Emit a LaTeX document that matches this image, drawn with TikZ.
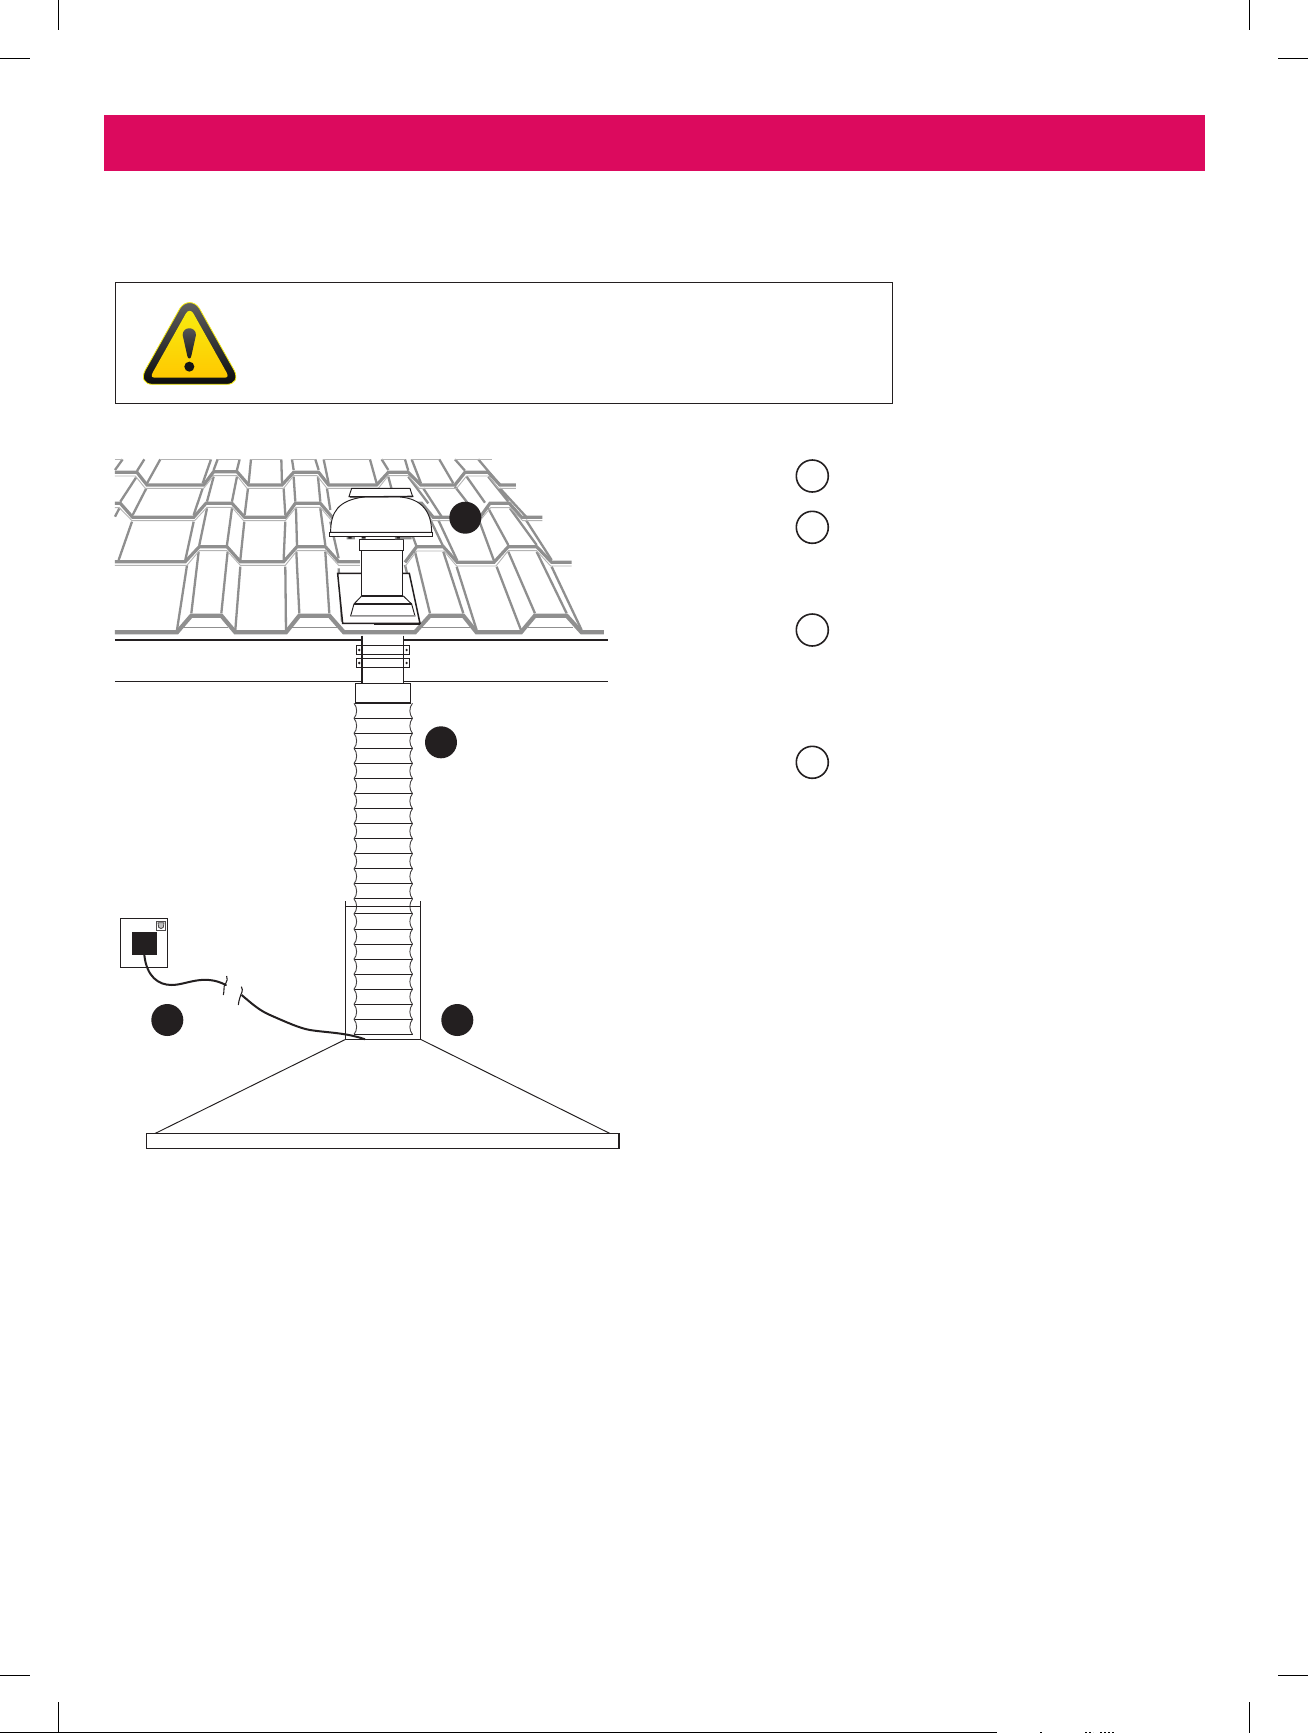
\documentclass[tikz,border=0pt]{standalone}
\definecolor{barpink}{HTML}{DC0A5E}
\definecolor{inkblack}{HTML}{231F20}
\definecolor{tilegray}{HTML}{8F8F8F}
\definecolor{tilelight}{HTML}{B4B4B4}
\definecolor{signtop}{HTML}{F7EC10}
\definecolor{signbottom}{HTML}{FFC800}
\tikzset{
  rib/.style={draw=tilegray,line width=2.3pt},
  rowline/.style={draw=tilegray,line width=3.2pt,line join=miter},
  baseline row/.style={draw=tilegray,line width=4.2pt,line join=miter},
  hairrow/.style={draw=tilelight,line width=0.9pt},
  ink/.style={draw=inkblack,line width=0.95pt},
  inkthick/.style={draw=inkblack,line width=1.5pt},
  cropmark/.style={draw=black,line width=0.8pt},
  badgeopen/.style={circle,draw=inkblack,line width=1.6pt,minimum size=32pt,inner sep=0pt},
  badgefull/.style={circle,fill=inkblack,minimum size=32pt,inner sep=0pt},
}
\begin{document}
\begin{tikzpicture}[x=1pt,y=-1pt]
\useasboundingbox (0,0) rectangle (1308,1733);
\fill[white] (0,0) rectangle (1308,1733);
% crop marks
\draw[cropmark] (58,0) -- (58,30) (1249,0) -- (1249,30) (0,58) -- (30,58) (1278,58) -- (1308,58);
\draw[cropmark] (58,1702) -- (58,1733) (1249,1702) -- (1249,1733) (0,1675) -- (30,1675) (1278,1675) -- (1308,1675);
\draw[cropmark] (0,1732.4) -- (997,1732.4);
\draw[black,line width=0.8pt,dash pattern=on 2pt off 2pt] (1085,1732.4) -- (1093,1732.4) (1100,1732.4) -- (1115,1732.4);
\draw[black,line width=0.8pt] (1040,1732.4) -- (1041.5,1732.4);
% header bar
\fill[barpink] (104,115) rectangle (1205,170.5);
% warning box
\draw[inkblack,line width=1pt] (115.5,282.5) rectangle (892,403);
\begin{scope}[shift={(100pt,-270pt)},x=0.3333pt,y=-0.3333pt]
  \draw[draw=signtop,line width=0.8pt,top color=black!62,bottom color=black!95]
    (240,115) .. controls (255,92) and (283,92) .. (298,115) -- (402,300)
    .. controls (415,325) and (405,343) .. (380,343) -- (158,343)
    .. controls (133,343) and (123,325) .. (136,300) -- cycle;
  \shade[top color=signtop,bottom color=signbottom]
    (258,130) .. controls (264,120) and (274,120) .. (280,130) -- (380,308)
    .. controls (386,320) and (382,323) .. (372,323) -- (166,323)
    .. controls (156,323) and (152,320) .. (158,308) -- cycle;
  \shade[top color=black!65,bottom color=black!90]
    (248,195) .. controls (248,168) and (288,168) .. (288,195) -- (274,258) .. controls (272,268) and (264,268) .. (262,258) -- cycle;
  \fill[black!92] (268,290) circle (15);
\end{scope}
% roof, traced in 3x crop coordinates
\begin{scope}[shift={(100pt,-440pt)},x=0.3333pt,y=-0.3333pt]
  % ribs above row 0
  \draw[rib] (45,90)--(68,58) (111,93)--(133,58) (141,130)--(181,58) (308,130)--(333,58)
    (341,90)--(353,58) (411,90)--(419,58) (446,130)--(453,58) (546,130)--(544,58)
    (581,90)--(576,58) (656,90)--(646,58) (686,130)--(671,58) (830,130)--(810,58)
    (865,90)--(845,58) (925,92)--(915,58) (963,130)--(935,58) (1060,130)--(1018,58)
    (1095,92)--(1065,58) (1200,135)--(1135,58);
  % ribs row 0 to row 1
  \draw[rib] (61,185)--(108,113) (98,225)--(139,145) (281,225)--(308,145) (321,185)--(341,110)
    (396,185)--(411,110) (434,225)--(444,145) (556,225)--(551,145) (586,185)--(581,110)
    (661,185)--(654,110) (691,210)--(681,145) (855,225)--(835,145) (885,185)--(865,110)
    (985,190)--(925,110) (1025,230)--(970,145) (1135,230)--(1065,140) (1155,188)--(1100,110)
    (1225,185)--(1165,110) (1280,232)--(1200,145);
  % ribs row 1 to row 2
  \draw[rib] (45,230)--(58,205) (56,360)--(96,245) (256,360)--(281,245) (298,315)--(321,205)
    (381,315)--(396,205) (421,360)--(433,245) (551,360)--(556,245) (591,315)--(588,205)
    (676,315)--(661,205) (716,355)--(691,245) (950,320)--(905,200) (1030,320)--(975,205)
    (1072,362)--(1015,240) (1182,362)--(1135,235) (1225,315)--(1165,205) (1310,315)--(1230,205)
    (1355,360)--(1278,240);
  % ribs row 2 to row 3
  \draw[rib] (231,570)--(261,376) (274,520)--(296,335) (364,520)--(383,335) (406,570)--(421,380)
    (558,570)--(556,380) (598,520)--(589,335) (688,520)--(676,335) (726,545)--(716,385)
    (915,375)--(960,555) (990,520)--(945,335) (1090,520)--(1030,335) (1130,570)--(1070,380)
    (1263,570)--(1190,380) (1305,520)--(1225,335) (1400,520)--(1310,335) (1445,570)--(1355,380);
  % top edge
  \draw[hairrow] (45,58)--(68,58) (181,58)--(333,58) (353,58)--(419,58) (453,58)--(544,58)
    (576,58)--(646,58) (671,58)--(810,58) (845,58)--(915,58) (935,58)--(1018,58) (1065,58)--(1175,58);
  % row 0
  \draw[rowline] (45,97)--(111,97)--(141,135)--(311,135)--(341,95)--(411,95)--(446,135)--(546,135)
    --(581,97)--(656,97)--(686,135)--(830,135)--(865,97)--(925,97)--(963,135)--(1065,135)--(1095,97)
    --(1165,97)--(1200,135)--(1248,135);
  \draw[hairrow] (45,108)--(106,108)--(136,145)--(311,145)--(341,107)--(411,107)--(441,145)--(551,145)
    --(581,107)--(651,107)--(681,145)--(835,145)--(865,107)--(925,107)--(958,145)--(1070,145)
    --(1100,108)--(1165,108)--(1195,145)--(1248,145);
  % row 1
  \draw[rowline] (45,190)--(61,190)--(98,232)--(281,232)--(318,190)--(396,190)--(434,232)--(556,232)
    --(586,190)--(661,190)--(697,232)--(850,232)--(885,190)--(965,190)--(1000,232)--(1140,232)
    --(1170,190)--(1228,190)--(1265,232)--(1327,232);
  \draw[hairrow] (45,203)--(58,203)--(96,242)--(284,242)--(321,202)--(396,202)--(431,242)--(556,242)
    --(588,202)--(661,202)--(695,242)--(1000,242)--(1140,242)--(1172,203)--(1230,203)--(1268,242)--(1327,242);
  % row 2
  \draw[rowline] (45,365)--(256,365)--(298,320)--(381,320)--(421,365)--(551,365)--(591,320)--(676,320)
    --(716,365)--(780,365) (915,367)--(950,320)--(1030,320)--(1072,367)--(1182,367)--(1225,320)
    --(1310,320)--(1355,367)--(1415,367);
  \draw[hairrow] (45,376)--(261,376)--(298,332)--(381,332)--(421,376)--(556,376)--(591,332)--(676,332)
    --(716,376)--(780,376) (915,380)--(950,333)--(1032,333)--(1070,378)--(1188,378)--(1225,332)
    --(1310,332)--(1352,378)--(1415,378);
  % row 3
  \draw[hairrow,draw=tilegray] (250,562)--(385,562) (575,562)--(710,562) (965,562)--(1110,562) (1285,562)--(1420,562);
  \draw[baseline row] (45,577)--(231,577)--(274,527)--(364,527)--(406,577)--(558,577)--(598,527)--(688,527)
    --(732,577)--(945,577)--(990,527)--(1090,527)--(1130,577)--(1263,577)--(1305,527)--(1400,527)
    --(1445,577)--(1512,577);
  % ceiling lines
  \draw[inkblack,line width=1.8pt] (45,600)--(786,600) (910,600)--(1523,600);
  \draw[inkblack,line width=1pt] (45,724)--(786,724) (910,724)--(1525,724);
  % flashing plate
  \draw[inkthick,fill=white] (713,400)--(928,400)--(960,550)--(728,550)--cycle;
  \draw[inkblack,line width=1.7pt] (822,551)--(960,551);
  % neck
  \draw[ink,fill=white] (784,331) rectangle (907,468);
  % base
  \draw[ink,fill=white] (785,468)--(910,468)--(935,492)--(945,528)--(752,528)--(762,492)--cycle;
  \draw[inkthick] (785,468)--(910,468);
  \draw[inkblack,line width=1.3pt] (762,492)--(935,492);
  \draw[draw=tilegray,line width=1.6pt] (752,527)--(945,527);
  % collar
  \draw[ink,fill=white] (778,298) rectangle (910,331);
  % fixing bits below the flange
  \fill[tilegray] (740,291) rectangle (765,298) (885,291) rectangle (935,298);
  \fill[inkblack] (745,291) rectangle (755,296) (785,291) rectangle (797,296) (890,291) rectangle (900,296);
  % cap
  \draw[ink,fill=white] (755,145)--(930,145)--(938,170)--(747,170)--cycle;
  % dome
  \draw[ink,fill=white] (692,277) .. controls (692,215) and (715,182) .. (790,171) -- (900,171)
    .. controls (965,176) and (995,215) .. (995,277) -- cycle;
  \draw[inkblack,line width=1.3pt] (750,171)--(940,169);
  % flange
  \draw[inkthick,fill=white] (688,277) rectangle (998,290);
  % duct through ceiling
  \fill[white] (787,587) rectangle (910,730);
  \draw[inkblack,line width=1.5pt] (786,587)--(786,730);
  \draw[ink] (910,587)--(910,730);
  \foreach \yt/\yb in {617/643,656/682}{
    \draw[ink] (770,\yt) rectangle (928,\yb);
    \fill[inkblack] (778,{(\yt+\yb)/2}) circle (4) (920,{(\yt+\yb)/2}) circle (4);
  }
  \draw[inkblack,line width=1.5pt] (786,617)--(786,682);
  % coupling
  \draw[ink,fill=white] (766,730) rectangle (932,788);
\end{scope}
% flexible duct
\draw[inkblack,line width=1.8pt] (355.3,703) -- (410.7,703);
\foreach \k in {0,...,21}{
  \pgfmathsetmacro{\ya}{718.3+15.05*\k}
  \draw[inkblack,line width=1pt] (354,\ya) -- (412.5,\ya);
  \pgfmathsetmacro{\yb}{\ya-15.05}
  \pgfmathsetmacro{\yc}{\ya-11}
  \pgfmathsetmacro{\yd}{\ya-4}
  \draw[inkblack!85,line width=0.9pt] (354,\yb) .. controls (357.5,\yc) and (357.5,\yd) .. (354,\ya);
  \draw[inkblack!85,line width=0.9pt] (412.5,\yb) .. controls (409,\yc) and (409,\yd) .. (412.5,\ya);
}
% sleeve and canopy
\draw[ink] (345.7,901) -- (345.7,1039.3) -- (420.5,1039.3) -- (420.5,901);
\draw[ink] (345.7,906) -- (420.5,906);
\draw[ink] (345.7,1039.3) -- (155,1133.5);
\draw[ink] (420.5,1039.3) -- (610,1133.5);
\draw[ink] (146.5,1133.7) rectangle (619,1148.3);
\draw[inkthick] (619,1133.7) -- (619,1149);
% socket and cable
\begin{scope}[shift={(100pt,-890pt)},x=0.3333pt,y=-0.3333pt]
  \draw[inkthick] (62,85) rectangle (203,232);
  \fill[inkblack] (96,126) rectangle (171,195);
  \draw[draw=inkblack!80,line width=0.8pt] (169,95) rectangle (197,122);
  \draw[draw=inkblack!80,line width=0.8pt,fill=black!25] (174,98) -- (192,98) -- (190,112) .. controls (186,117) and (180,117) .. (176,112) -- cycle;
  \draw[inkblack,line width=2pt,line cap=round] (133,195) .. controls (140,260) and (175,285) .. (215,285)
    .. controls (260,285) and (310,250) .. (378,285);
  \draw[inkblack,line width=1.1pt] (380,258) .. controls (388,275) and (368,285) .. (372,298) .. controls (373,305) and (370,310) .. (370,315);
  \draw[inkblack,line width=1.1pt] (424,290) .. controls (432,302) and (422,312) .. (420,322) .. controls (418,330) and (415,338) .. (415,345);
  \draw[inkblack,line width=2pt] (425,315) .. controls (460,345) and (480,362) .. (510,375)
    .. controls (560,397) and (600,415) .. (630,420) .. controls (680,428) and (740,428) .. (795,448);
\end{scope}
% numbered badges
\node[badgefull] (badgeroof) at (465.3,517.7) {};
\node[badgefull] (badgeduct) at (441,742.3) {};
\node[badgefull] (badgecable) at (167.3,1020) {};
\node[badgefull] (badgesleeve) at (457.3,1020) {};
\node[badgeopen] (keyone) at (812.3,476) {};
\node[badgeopen] (keytwo) at (812.3,527.3) {};
\node[badgeopen] (keythree) at (812.3,630) {};
\node[badgeopen] (keyfour) at (812.3,762.3) {};
\end{tikzpicture}
\end{document}
